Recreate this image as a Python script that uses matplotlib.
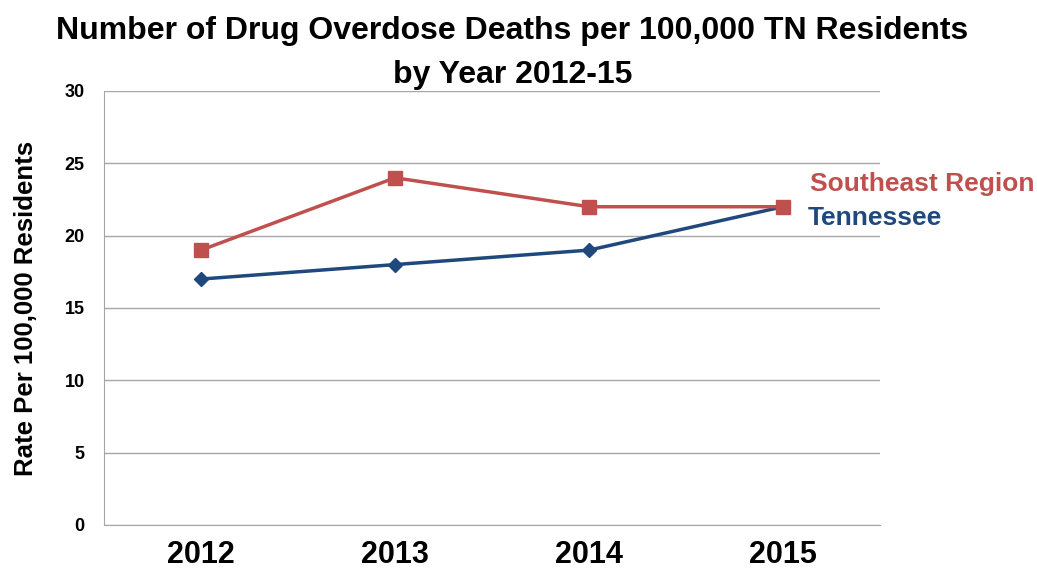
import matplotlib
matplotlib.use("Agg")
import matplotlib.pyplot as plt

plt.rcParams['font.family'] = ['Liberation Sans', 'DejaVu Sans']

# Data
years = ['2012', '2013', '2014', '2015']
southeast = [19, 24, 22, 22]
tennessee = [17, 18, 19, 22]

red = '#C0504D'
blue = '#1F497D'

fig = plt.figure(figsize=(10.37, 5.73), dpi=100)
ax = fig.add_axes([0.1003, 0.0838, 0.7483, 0.7574])

x = range(len(years))
ax.plot(x, tennessee, color=blue, lw=2.5, marker='D', markersize=7, zorder=3)
ax.plot(x, southeast, color=red, lw=2.5, marker='s', markersize=10, zorder=4)

ax.set_xlim(-0.5, 3.5)
ax.set_ylim(0, 30)
ax.set_yticks(range(0, 31, 5))
ax.set_xticks(list(x))
ax.set_xticklabels(years, fontsize=22, fontweight='bold')
for lab in ax.get_yticklabels():
    lab.set_fontsize(13)
    lab.set_fontweight('bold')
ax.tick_params(length=0)
ax.tick_params(axis='x', pad=11)
ax.tick_params(axis='y', pad=14)

ax.grid(axis='y', color='#A6A6A6', lw=1)
ax.set_axisbelow(True)
for s in ['top', 'right']:
    ax.spines[s].set_visible(False)
for s in ['left', 'bottom']:
    ax.spines[s].set_color('#A6A6A6')

ax.set_ylabel('Rate Per 100,000 Residents', fontsize=18.5, fontweight='bold', labelpad=19)

# labels at the end of lines
ax.text(3.14, 23.55, 'Southeast Region', color=red, fontsize=19, fontweight='bold', va='center', ha='left', clip_on=False)
ax.text(3.13, 21.2, 'Tennessee', color=blue, fontsize=19, fontweight='bold', va='center', ha='left', clip_on=False)

fig.text(0.494, 0.946, 'Number of Drug Overdose Deaths per 100,000 TN Residents', fontsize=23, fontweight='bold', ha='center', va='center')
fig.text(0.494, 0.869, 'by Year 2012-15', fontsize=23, fontweight='bold', ha='center', va='center')

fig.savefig('out.png', dpi=100)
